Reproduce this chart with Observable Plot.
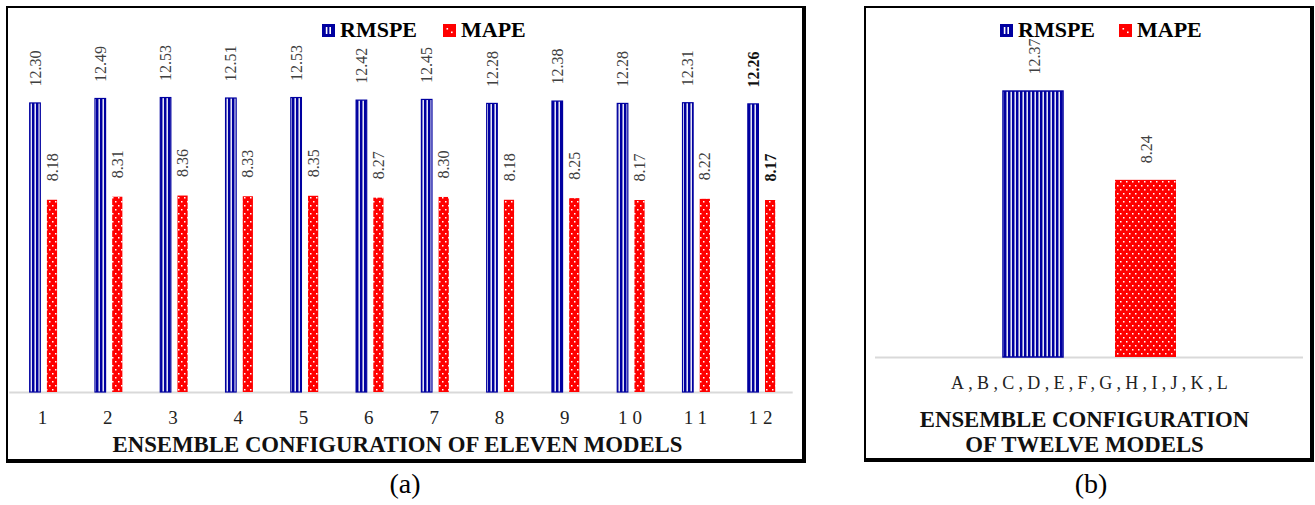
<!DOCTYPE html>
<html>
<head>
<meta charset="utf-8">
<script src="https://cdn.jsdelivr.net/npm/d3@7"></script>
<script src="https://cdn.jsdelivr.net/npm/@observablehq/plot@0.6"></script>
<style>
  body { margin: 0; background: #fff; font-family: "Liberation Serif", "Times New Roman", serif; }
  #root { position: relative; width: 1315px; height: 505px; overflow: hidden; background: #fff; }
  .panel { position: absolute; box-sizing: border-box; border-style: solid; border-color: #000; border-width: 2px 4px 4px 2px; }
  .chart { position: absolute; top: 0; }
  .legend { position: absolute; display: flex; align-items: center; font-weight: bold; font-size: 22px; line-height: 26px; color: #000; white-space: nowrap; }
  .legend .item { display: flex; align-items: center; }
  .legend svg { margin-right: 5px; }
  .caption { position: absolute; width: 200px; text-align: center; font-size: 28px; line-height: 30px; color: #000; }
  #chartA g[aria-label="x-axis tick label"] text { letter-spacing: 5px; }
  #chartB g[aria-label="x-axis tick label"] text { letter-spacing: 4.3px; }
</style>
</head>
<body>
<svg width="0" height="0" style="position:absolute">
  <defs>
    <pattern id="stripes" patternUnits="userSpaceOnUse" width="4" height="4">
      <rect width="4" height="4" fill="#0000A0"></rect>
      <rect x="2.5" width="1.4" height="4" fill="#ffffff"></rect>
    </pattern>
    <pattern id="dots" patternUnits="userSpaceOnUse" width="6" height="8">
      <rect width="6" height="8" fill="#FF0000"></rect>
      <rect x="1" y="1" width="1.5" height="1.5" fill="#ffffff"></rect>
      <rect x="4" y="5" width="1.5" height="1.5" fill="#ffffff"></rect>
    </pattern>
  </defs>
</svg>
<div id="root">
  <div class="panel" style="left:6px;top:6px;width:800px;height:457px;"></div>
  <div class="panel" style="left:864px;top:6px;width:450px;height:456px;"></div>
  <div id="chartA" class="chart" style="left:0px;"></div>
  <div id="chartB" class="chart" style="left:864px;"></div>
  <div class="legend" id="legendA" style="left:322px;top:17px;"></div>
  <div class="legend" id="legendB" style="left:1000px;top:17px;"></div>
  <div class="caption" style="left:305px;top:469px;">(a)</div>
  <div class="caption" style="left:991px;top:469px;">(b)</div>
</div>
<script>
// ---------- data ----------
const seriesNames = ["RMSPE", "MAPE"];
const configsA = ["1", "2", "3", "4", "5", "6", "7", "8", "9", "10", "11", "12"];
const rmspeA = [12.30, 12.49, 12.53, 12.51, 12.53, 12.42, 12.45, 12.28, 12.38, 12.28, 12.31, 12.26];
const mapeA  = [8.18, 8.31, 8.36, 8.33, 8.35, 8.27, 8.30, 8.18, 8.25, 8.17, 8.22, 8.17];
const bestConfigA = "12";
const configsB = ["A,B,C,D,E,F,G,H,I,J,K,L"];
const rmspeB = [12.37];
const mapeB  = [8.24];
const axisTitleA = "ENSEMBLE CONFIGURATION OF ELEVEN MODELS";
const axisTitleB = "ENSEMBLE CONFIGURATION\nOF TWELVE MODELS";

// ---------- styles ----------
const BLUE = "#0000A0";
const RED = "#FF0000";
const fmt = d3.format(".2f");

const rowsA = configsA.map((c, i) => ({config: c, rmspe: rmspeA[i], mape: mapeA[i], best: c === bestConfigA}));
const rowsB = configsB.map((c, i) => ({config: c, rmspe: rmspeB[i], mape: mapeB[i]}));

// ---------- panel (a) ----------
const plotA = Plot.plot({
  width: 805,
  height: 461,
  marginLeft: 9.3,
  marginRight: 12.3,
  marginTop: 63,
  marginBottom: 69,
  style: {fontFamily: "'Liberation Serif', 'Times New Roman', serif", color: "#222", background: "transparent"},
  x: {type: "band", domain: configsA, padding: 0, round: false, label: null},
  y: {domain: [0, 14], axis: null},
  marks: [
    Plot.ruleY([0], {stroke: "#d9d9d9", strokeWidth: 2}),
    Plot.barY(rowsA, {x: "config", y: "rmspe", fill: "url(#stripes)", stroke: BLUE, strokeWidth: 1.2, insetLeft: 20.4, insetRight: 34.3}),
    Plot.barY(rowsA, {x: "config", y: "mape", fill: "url(#dots)", insetLeft: 37.6, insetRight: 17.5}),
    Plot.text(rowsA.filter(d => !d.best), {x: "config", y: "rmspe", text: d => fmt(d.rmspe), rotate: -90, textAnchor: "start", dx: -7, dy: -17, fontSize: 16, fill: "#404040"}),
    Plot.text(rowsA.filter(d => !d.best), {x: "config", y: "mape", text: d => fmt(d.mape), rotate: -90, textAnchor: "start", dx: 10, dy: -19, fontSize: 16, fill: "#404040"}),
    Plot.text(rowsA.filter(d => d.best), {x: "config", y: "rmspe", text: d => fmt(d.rmspe), rotate: -90, textAnchor: "start", dx: -7, dy: -17, fontSize: 16, fontWeight: "bold", fill: "#111"}),
    Plot.text(rowsA.filter(d => d.best), {x: "config", y: "mape", text: d => fmt(d.mape), rotate: -90, textAnchor: "start", dx: 10, dy: -19, fontSize: 16, fontWeight: "bold", fill: "#111"}),
    Plot.axisX({tickSize: 0, tickPadding: 18, fontSize: 19, dx: 2.5, label: null}),
    Plot.text([axisTitleA], {text: d => d, frameAnchor: "bottom", lineAnchor: "middle", dy: 52, dx: -4, fontSize: 22.8, fontWeight: "bold", fill: "#111"})
  ]
});
document.getElementById("chartA").appendChild(plotA);

// ---------- panel (b) ----------
const plotB = Plot.plot({
  width: 448,
  height: 460,
  marginLeft: 11,
  marginRight: 9,
  marginTop: 56,
  marginBottom: 103,
  style: {fontFamily: "'Liberation Serif', 'Times New Roman', serif", color: "#222", background: "transparent"},
  x: {type: "band", domain: configsB, padding: 0, round: false, label: null},
  y: {domain: [0, 14], axis: null},
  marks: [
    Plot.ruleY([0], {stroke: "#d9d9d9", strokeWidth: 2}),
    Plot.barY(rowsB, {x: "config", y: "rmspe", fill: "url(#stripes)", stroke: BLUE, strokeWidth: 1.5, insetLeft: 128, insetRight: 240}),
    Plot.barY(rowsB, {x: "config", y: "mape", fill: "url(#dots)", insetLeft: 240, insetRight: 127}),
    Plot.text(rowsB, {x: "config", y: "rmspe", text: d => fmt(d.rmspe), rotate: -90, textAnchor: "start", dx: -55, dy: -17, fontSize: 16, fill: "#404040"}),
    Plot.text(rowsB, {x: "config", y: "mape", text: d => fmt(d.mape), rotate: -90, textAnchor: "start", dx: 57, dy: -17, fontSize: 16, fill: "#404040"}),
    Plot.axisX({tickSize: 0, tickPadding: 19, fontSize: 18, dx: 2, label: null}),
    Plot.text([axisTitleB], {text: d => d, frameAnchor: "bottom", lineAnchor: "middle", dy: 73.5, dx: -5, fontSize: 22.8, lineHeight: 1.1, fontWeight: "bold", fill: "#111"})
  ]
});
document.getElementById("chartB").appendChild(plotB);

// ---------- legends ----------
function swatch(name) {
  if (name === "RMSPE") {
    return `<svg width="13" height="13" viewBox="0 0 13 13"><rect width="13" height="13" fill="${BLUE}"/><rect x="3.8" y="3" width="1.6" height="7" fill="#fff"/><rect x="7.4" y="3" width="1.6" height="7" fill="#fff"/></svg>`;
  }
  return `<svg width="13" height="13" viewBox="0 0 13 13"><rect width="13" height="13" fill="${RED}"/><rect x="3.5" y="4" width="1.6" height="1.6" fill="#fff"/><rect x="8" y="7.5" width="1.6" height="1.6" fill="#fff"/></svg>`;
}
function buildLegend(id, gap) {
  const el = document.getElementById(id);
  el.innerHTML = seriesNames.map((s, i) =>
    `<span class="item" style="margin-left:${i ? gap : 0}px">${swatch(s)}<span>${s}</span></span>`).join("");
}
buildLegend("legendA", 26);
buildLegend("legendB", 24);
</script>
</body>
</html>
